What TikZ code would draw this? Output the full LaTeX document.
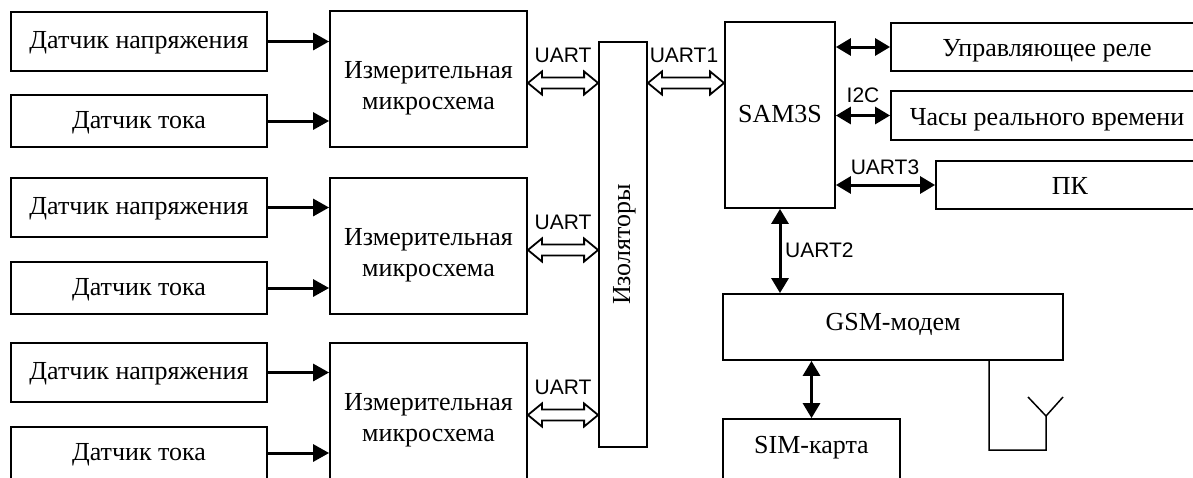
\documentclass[tikz,border=0pt]{standalone}
\usepackage{fontspec}
\setmainfont{Liberation Serif}
\newfontfamily\lblfont{Liberation Sans}
\usetikzlibrary{arrows.meta,calc}
\tikzset{
  blk/.style={draw, line width=1.8pt, align=center, inner sep=0pt,
    text height=14pt, text depth=0pt, font=\fontsize{26}{31}\selectfont},
  sensbox/.style={blk, minimum width=256pt},
  mcbox/.style={blk, minimum width=197pt, minimum height=136pt, text height=60pt},
  sigarr/.style={-{Triangle[length=16pt,width=17pt]}, line width=3pt},
  busarr/.style={{Triangle[length=15pt,width=17pt]}-{Triangle[length=15pt,width=17pt]}, line width=3pt},
  uartarr/.style={draw, line width=1.8pt, line join=miter, to path={
    let \p1=(\tikztostart), \p2=(\tikztotarget) in
    (\p1) -- (\x1+14pt,\y1+11.5pt) -- (\x1+14pt,\y1+5.5pt) -- (\x2-14pt,\y2+5.5pt)
    -- (\x2-14pt,\y2+11.5pt) -- (\p2) -- (\x2-14pt,\y2-11.5pt) -- (\x2-14pt,\y2-5.5pt)
    -- (\x1+14pt,\y1-5.5pt) -- (\x1+14pt,\y1-11.5pt) -- cycle}},
  lbl/.style={font=\lblfont\fontsize{21}{21}\selectfont, inner sep=0pt},
  antline/.style={line width=1.5pt}
}
\begin{document}
\begin{tikzpicture}[x=1pt,y=-1pt]
\useasboundingbox (0,0) rectangle (1193,477);
\clip (0,0) rectangle (1193,477);
% sensors
\node[sensbox, minimum height=59pt] (v1) at (139,41.5) {Датчик напряжения};
\node[sensbox, minimum height=52pt] (c1) at (139,121) {Датчик тока};
\node[sensbox, minimum height=59pt] (v2) at (139,207.5) {Датчик напряжения};
\node[sensbox, minimum height=52pt] (c2) at (139,288) {Датчик тока};
\node[sensbox, minimum height=59pt] (v3) at (139,372.5) {Датчик напряжения};
\node[sensbox, minimum height=52pt] (c3) at (139,453) {Датчик тока};
% measuring chips
\node[mcbox] (m1) at (428.5,79) {Измерительная\\микросхема};
\node[mcbox] (m2) at (428.5,246) {Измерительная\\микросхема};
\node[mcbox] (m3) at (428.5,411) {Измерительная\\микросхема};
\node[blk, rotate=90, minimum width=405pt, minimum height=48pt] (iso) at (623,244.5) {Изоляторы};
% controller side
\node[blk, minimum width=110pt, minimum height=186pt] (sam) at (780,115) {SAM3S};
\node[blk, minimum width=312pt, minimum height=48pt, text height=19pt] (relay) at (1047,47) {Управляющее реле};
\node[blk, minimum width=312pt, minimum height=49pt, text height=19pt] (rtc) at (1047,115.5) {Часы реального времени};
\node[blk, minimum width=268pt, minimum height=48pt, text height=19pt] (pc) at (1070,185) {ПК};
\node[blk, minimum width=340pt, minimum height=66pt, text height=6pt] (gsm) at (893,327) {GSM-модем};
\node[blk, minimum width=177pt, minimum height=60pt, text height=8pt] (sim) at (811.5,449) {SIM-карта};

\draw[sigarr] (v1.east) -- (v1.east -| m1.west);
\draw[sigarr] (c1.east) -- (c1.east -| m1.west);
\draw[sigarr] (v2.east) -- (v2.east -| m2.west);
\draw[sigarr] (c2.east) -- (c2.east -| m2.west);
\draw[sigarr] (v3.east) -- (v3.east -| m3.west);
\draw[sigarr] (c3.east) -- (c3.east -| m3.west);

\coordinate (u1) at ($(m1.east)+(0,4)$);
\coordinate (u2) at ($(m2.east)+(0,4)$);
\coordinate (u3) at ($(m3.east)+(0,4)$);
\draw[uartarr] (m1.east |- u1) to (iso.north |- u1);
\draw[uartarr] (m2.east |- u2) to (iso.north |- u2);
\draw[uartarr] (m3.east |- u3) to (iso.north |- u3);
\draw[uartarr] (iso.south |- u1) to (sam.west |- u1);

\draw[busarr] (sam.east |- relay.west) -- (relay.west);
\draw[busarr] (sam.east |- rtc.west) -- (rtc.west);
\draw[busarr] (sam.east |- pc.west) -- (pc.west);
\draw[busarr] (sam.south) -- (sam.south |- gsm.north);
\draw[busarr] (gsm.south -| sim.north) -- (sim.north);

\node[lbl] (lu1) at (563,55) {UART};
\node[lbl] (lu2) at (563,222) {UART};
\node[lbl] (lu3) at (563,387) {UART};
\node[lbl] (lu4) at (684,55) {UART1};
\node[lbl] (li2c) at (863,95) {I2C};
\node[lbl] (lu5) at (885,167) {UART3};
\node[lbl, anchor=west] (lu6) at (785,250) {UART2};

% antenna
\coordinate (antfoot) at (989,450);
\coordinate (ant) at (1046,416);
\draw[antline] (gsm.south -| antfoot) -- (antfoot) -| (ant) -- ++(-18,-19) (ant) -- ++(17,-19);
\end{tikzpicture}
\end{document}
